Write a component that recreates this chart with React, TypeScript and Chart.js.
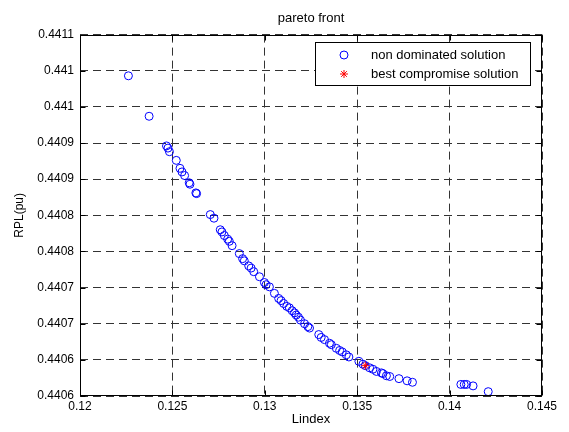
import React, { useEffect, useRef } from 'react';
import { Chart, registerables } from 'chart.js';

Chart.register(...registerables);

// Non dominated solutions (Lindex, RPL in pu)
const lindexND = [
  0.12262, 0.12374, 0.12468, 0.12476, 0.12484, 0.12521, 0.12541, 0.12552, 0.12566, 0.12591,
  0.12595, 0.12627, 0.12631, 0.12705, 0.12725, 0.12759, 0.12768, 0.12781, 0.12799, 0.12808,
  0.12823, 0.12862, 0.1288, 0.12889, 0.12913, 0.12926, 0.1294, 0.12971, 0.12998, 0.13007,
  0.13025, 0.13052, 0.13075, 0.13088, 0.13102, 0.13119, 0.13133, 0.13148, 0.13161, 0.1317,
  0.13182, 0.13193, 0.13215, 0.13233, 0.13242, 0.13292, 0.13305, 0.13323, 0.1335, 0.1336,
  0.13387, 0.13405, 0.13419, 0.13441, 0.13455, 0.13509, 0.13531, 0.13544, 0.13567, 0.13585,
  0.13604, 0.13631, 0.13639, 0.13658, 0.13676, 0.13726, 0.1377, 0.13799, 0.14061, 0.14079,
  0.14092, 0.14127, 0.14209,
];
const rplND = [
  0.440993, 0.440937, 0.440896, 0.440893, 0.440888, 0.440876, 0.440865, 0.44086, 0.440855, 0.440845,
  0.440843, 0.440831, 0.44083, 0.440801, 0.440796, 0.44078, 0.440777, 0.440772, 0.440767, 0.440764,
  0.440758, 0.440747, 0.44074, 0.440737, 0.44073, 0.440727, 0.440722, 0.440715, 0.440707, 0.440704,
  0.440701, 0.440692, 0.440685, 0.440682, 0.440678, 0.440674, 0.440672, 0.440668, 0.440665, 0.440662,
  0.440659, 0.440655, 0.44065, 0.440646, 0.440644, 0.440635, 0.440631, 0.440628, 0.440623, 0.440621,
  0.440616, 0.440613, 0.440611, 0.440607, 0.440604, 0.440598, 0.440594, 0.440592, 0.440589, 0.440587,
  0.440584, 0.440582, 0.440581, 0.440578, 0.440577, 0.440574, 0.440571, 0.440569, 0.440566, 0.440566,
  0.440566, 0.440564, 0.440556,
];

// Best compromise solution
const lindexBest = [0.13544];
const rplBest = [0.440592];

const seriesLabels = ['non dominated solution', 'best compromise solution'];
const chartTitle = 'pareto front';
const xTitle = 'Lindex';
const yTitle = 'RPL(pu)';

const xTickValues = [0.12, 0.125, 0.13, 0.135, 0.14, 0.145];
const xTickLabels = ['0.12', '0.125', '0.13', '0.135', '0.14', '0.145'];
const yTickValues = [0.44055, 0.4406, 0.44065, 0.4407, 0.44075, 0.4408, 0.44085, 0.4409, 0.44095, 0.441, 0.44105];
const yTickLabels = ['0.4406', '0.4406', '0.4407', '0.4407', '0.4408', '0.4408', '0.4409', '0.4409', '0.441', '0.441', '0.4411'];

const FONT = '"Liberation Sans", Arial, Helvetica, sans-serif';

function drawStar(ctx: CanvasRenderingContext2D, x: number, y: number, r: number) {
  ctx.beginPath();
  for (let i = 0; i < 4; i++) {
    const a = (i * Math.PI) / 4;
    ctx.moveTo(x - Math.cos(a) * r, y - Math.sin(a) * r);
    ctx.lineTo(x + Math.cos(a) * r, y + Math.sin(a) * r);
  }
  ctx.stroke();
}

const framePlugin = {
  id: 'matlabFrame',
  afterDatasetsDraw(chart: any) {
    const { ctx, chartArea, scales } = chart;
    const l = Math.round(chartArea.left) + 0.5;
    const r = Math.round(chartArea.right) - 0.5;
    const t = Math.round(chartArea.top) + 0.5;
    const b = Math.round(chartArea.bottom) - 0.5;
    ctx.save();
    ctx.strokeStyle = '#000';
    ctx.lineWidth = 1;
    ctx.setLineDash([]);
    ctx.strokeRect(l, t, r - l, b - t);
    // inward tick marks
    const tl = 5;
    ctx.beginPath();
    for (const v of xTickValues) {
      const px = Math.round(scales.x.getPixelForValue(v)) + 0.5;
      ctx.moveTo(px, b);
      ctx.lineTo(px, b - tl);
      ctx.moveTo(px, t);
      ctx.lineTo(px, t + tl);
    }
    for (const v of yTickValues) {
      const py = Math.round(scales.y.getPixelForValue(v)) + 0.5;
      ctx.moveTo(l, py);
      ctx.lineTo(l + tl, py);
      ctx.moveTo(r, py);
      ctx.lineTo(r - tl, py);
    }
    ctx.stroke();

    // legend
    const bx = 315.5, by = 42.5, bw = 215, bh = 43;
    ctx.fillStyle = '#fff';
    ctx.fillRect(bx, by, bw, bh);
    ctx.strokeStyle = '#000';
    ctx.strokeRect(bx, by, bw, bh);
    const ds = chart.data.datasets;
    const rows = [55, 74];
    ctx.strokeStyle = ds[0].borderColor;
    ctx.beginPath();
    ctx.arc(344, rows[0], 4, 0, Math.PI * 2);
    ctx.stroke();
    ctx.strokeStyle = ds[1].borderColor;
    drawStar(ctx, 344, rows[1], 4);
    ctx.fillStyle = '#000';
    ctx.font = `13px ${FONT}`;
    ctx.textBaseline = 'middle';
    ctx.textAlign = 'left';
    ctx.fillText(ds[0].label, 371, rows[0]);
    ctx.fillText(ds[1].label, 371, rows[1]);
    ctx.restore();
  },
};

export default function App() {
  const ref = useRef<HTMLCanvasElement | null>(null);

  useEffect(() => {
    if (!ref.current) return;
    const chart = new Chart(ref.current, {
      type: 'scatter',
      data: {
        datasets: [
          {
            label: seriesLabels[0],
            data: lindexND.map((x, i) => ({ x, y: rplND[i] })),
            pointStyle: 'circle',
            pointRadius: 4,
            pointBorderWidth: 1,
            borderColor: 'rgb(0,0,255)',
            pointBorderColor: 'rgb(0,0,255)',
            backgroundColor: 'rgba(0,0,0,0)',
            pointBackgroundColor: 'rgba(0,0,0,0)',
            order: 1,
          },
          {
            label: seriesLabels[1],
            data: lindexBest.map((x, i) => ({ x, y: rplBest[i] })),
            pointStyle: 'star',
            pointRadius: 4,
            pointBorderWidth: 1,
            borderColor: 'rgb(255,0,0)',
            pointBorderColor: 'rgb(255,0,0)',
            backgroundColor: 'rgb(255,0,0)',
            order: 0,
          },
        ],
      },
      options: {
        animation: false,
        responsive: false,
        layout: { padding: { left: 0, right: 27, top: 0, bottom: 0 } },
        plugins: {
          legend: { display: false },
          tooltip: { enabled: false },
          title: {
            display: true,
            fullSize: false,
            text: chartTitle,
            color: '#000',
            font: { family: FONT, size: 13, weight: 'normal' },
            padding: { top: 11, bottom: 8 },
          },
        },
        scales: {
          x: {
            type: 'linear',
            min: 0.12,
            max: 0.145,
            afterBuildTicks: (scale: any) => {
              scale.ticks = xTickValues.map((v) => ({ value: v }));
            },
            afterFit: (scale: any) => {
              scale.height = 36;
            },
            ticks: {
              color: '#000',
              font: { family: FONT, size: 12 },
              padding: 3,
              maxRotation: 0,
              autoSkip: false,
              callback: (_v: any, i: number) => xTickLabels[i],
            },
            grid: { color: '#333', lineWidth: 1, drawTicks: false },
            border: { display: false, dash: [8, 5] },
            title: {
              display: true,
              text: xTitle,
              color: '#000',
              font: { family: FONT, size: 13 },
              padding: { top: 0, bottom: 5 },
            },
          },
          y: {
            type: 'linear',
            min: 0.44055,
            max: 0.44105,
            afterBuildTicks: (scale: any) => {
              scale.ticks = yTickValues.map((v) => ({ value: v }));
            },
            afterFit: (scale: any) => {
              scale.width = 80;
            },
            ticks: {
              color: '#000',
              font: { family: FONT, size: 12 },
              padding: 6,
              autoSkip: false,
              callback: (_v: any, i: number) => yTickLabels[i],
            },
            grid: { color: '#333', lineWidth: 1, drawTicks: false },
            border: { display: false, dash: [8, 5] },
            title: {
              display: true,
              text: yTitle,
              color: '#000',
              font: { family: FONT, size: 12 },
              padding: { top: 12, bottom: 0 },
            },
          },
        },
      },
      plugins: [framePlugin],
    } as any);
    return () => chart.destroy();
  }, []);

  return (
    <div style={{ position: 'fixed', left: 0, top: 0, width: 569, height: 432, background: '#fff' }}>
      <canvas ref={ref} width={569} height={432} style={{ display: 'block' }} />
    </div>
  );
}
